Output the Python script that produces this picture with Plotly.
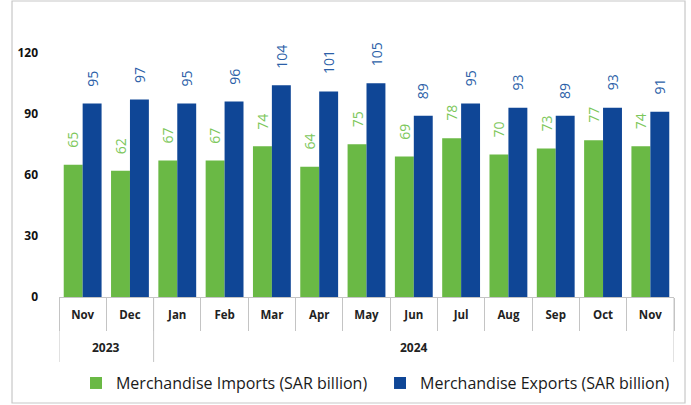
import plotly.graph_objects as go

months = ["Nov", "Dec", "Jan", "Feb", "Mar", "Apr", "May", "Jun", "Jul", "Aug", "Sep", "Oct", "Nov"]
years = ["2023", "2023"] + ["2024"] * 11
imports = [65, 62, 67, 67, 74, 64, 75, 69, 78, 70, 73, 77, 74]
exports = [95, 97, 95, 96, 104, 101, 105, 89, 95, 93, 89, 93, 91]
y_ticks = [0, 30, 60, 90, 120]

GREEN = "#6ab945"
BLUE = "#0f4696"
GREEN_TXT = "#7dc75b"
BLUE_TXT = "#2c5fa8"
GRAY = "#c4c4c4"
FONT = "Open Sans"

idx = list(range(len(months)))

fig = go.Figure()
fig.add_trace(go.Bar(x=idx, y=imports, name="Merchandise Imports (SAR billion)",
                     marker=dict(color=GREEN, line=dict(width=0)), legend="legend"))
fig.add_trace(go.Bar(x=idx, y=exports, name="Merchandise Exports (SAR billion)",
                     marker=dict(color=BLUE, line=dict(width=0)), legend="legend2"))

ann = []
for i, (a, b) in enumerate(zip(imports, exports)):
    ann.append(dict(x=i, y=a, xref="x", yref="y", text=str(a), showarrow=False, textangle=-90,
                    xshift=-9.5, yshift=15, yanchor="bottom",
                    font=dict(family=FONT, size=14, color=GREEN_TXT)))
    ann.append(dict(x=i, y=b, xref="x", yref="y", text=str(b), showarrow=False, textangle=-90,
                    xshift=9.5, yshift=15, yanchor="bottom",
                    font=dict(family=FONT, size=14, color=BLUE_TXT)))

# year groups: boundaries and centres derived from the years list
groups = []
for i, yv in enumerate(years):
    if not groups or groups[-1][0] != yv:
        groups.append([yv, i, i])
    else:
        groups[-1][2] = i

YDIV = -0.228  # bottom of year row (paper)
shapes = [dict(type="rect", xref="paper", yref="paper", x0=-0.0764, x1=1.0179, y0=-0.372, y1=1.0386,
               line=dict(color="#c8c8c8", width=1.2), layer="below")]
bounds = sorted(set([g[1] - 0.5 for g in groups] + [g[2] + 0.5 for g in groups]))
for bx in bounds:
    shapes.append(dict(type="line", xref="x", yref="paper", x0=bx, x1=bx, y0=0, y1=YDIV,
                       line=dict(color=GRAY, width=1)))
for g in groups:
    ann.append(dict(x=(g[1] + g[2]) / 2, y=-0.178, xref="x", yref="paper", text=g[0], showarrow=False,
                    yanchor="middle", font=dict(family=FONT, size=12, color="#222222", weight="bold")))

leg_common = dict(orientation="h", y=-0.302, yanchor="middle", xanchor="left",
                  font=dict(family=FONT, size=16, color="#1a1a1a"), itemwidth=30,
                  bgcolor="rgba(0,0,0,0)")

fig.update_layout(
    width=691, height=405,
    margin=dict(l=59, r=17, t=12, b=108, autoexpand=False),
    paper_bgcolor="white", plot_bgcolor="white",
    barmode="group", bargap=0.2, bargroupgap=0,
    font=dict(family=FONT, color="#222222"),
    showlegend=True,
    legend=dict(x=0.0276, **leg_common),
    legend2=dict(x=0.522, **leg_common),
    annotations=ann,
    shapes=shapes,
)
fig.update_yaxes(range=[0, 140], tickvals=y_ticks, showgrid=False, zeroline=False, showline=False,
                 tickfont=dict(family=FONT, size=12, color="#111111", weight="bold"),
                 ticklabelstandoff=20)
fig.update_xaxes(range=[-0.5, len(months) - 0.5], tickvals=idx, ticktext=months,
                 showgrid=False, zeroline=False, showline=True, linecolor=GRAY, linewidth=1,
                 ticks="", ticklabelstandoff=7,
                 minor=dict(tickvals=[i - 0.5 for i in range(len(months) + 1)], ticks="outside",
                            ticklen=33, tickcolor=GRAY, tickwidth=1, showgrid=False),
                 tickfont=dict(family=FONT, size=11.5, color="#222222", weight="bold"))

fig.write_html("out.html", config={"displayModeBar": False},
               post_script="document.body.style.margin='0';")
